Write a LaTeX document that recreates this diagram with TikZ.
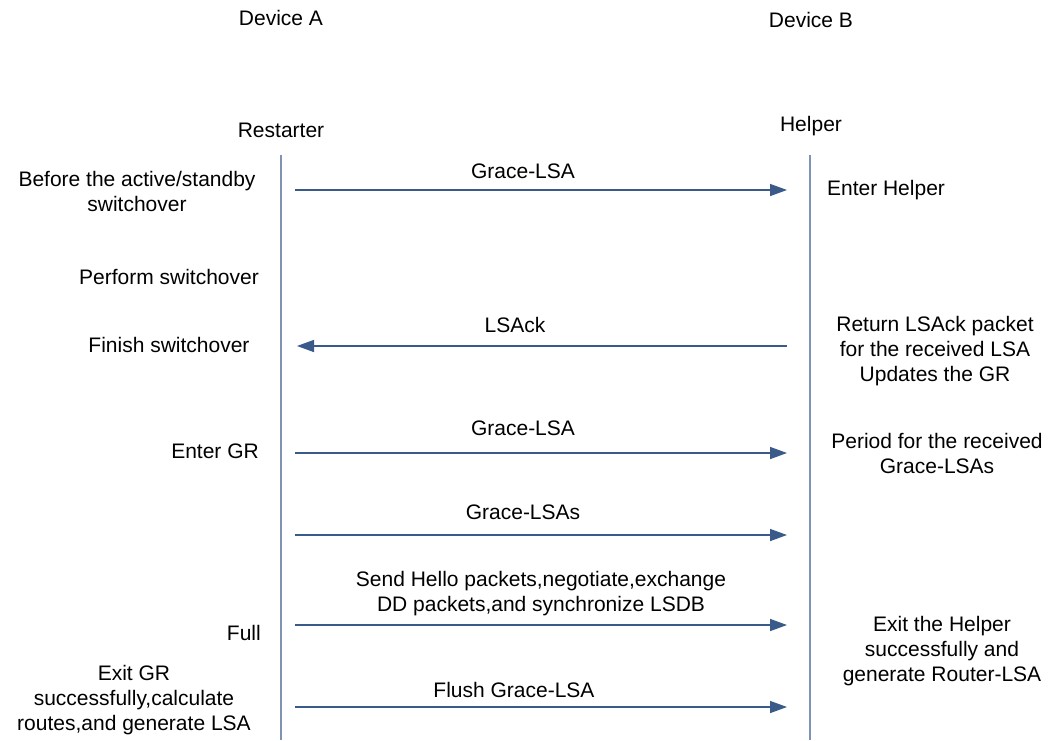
\documentclass[tikz,border=0pt]{standalone}
\usepackage{fontspec}
\setmainfont{Liberation Sans}
\usetikzlibrary{arrows.meta}
\definecolor{msg}{HTML}{3A5A8A}
\definecolor{life}{HTML}{7F93B5}
\begin{document}
\begin{tikzpicture}[x=1pt,y=-1pt,
  txt/.style={inner sep=0pt,align=center,font=\fontsize{21}{25}\selectfont},
  lifeline/.style={draw=life,line width=1.3pt},
  msgarrow/.style={draw=msg,line width=1.5pt,-{Triangle[length=17pt,width=12pt]}}]
\useasboundingbox[fill=white] (0,0) rectangle (1048,740);
% headers
\node[txt] (devA) at (281,18) {Device A};
\node[txt] (devB) at (811,20) {Device B};
\node[txt] (rest) at (281,130) {Restarter};
\node[txt] (help) at (811,126) {Helper};
% lifelines
\coordinate (ltop) at (281,155); \coordinate (lbot) at (281,740);
\coordinate (rtop) at (810,155); \coordinate (rbot) at (810,740);
\draw[lifeline] (ltop) -- (lbot);
\draw[lifeline] (rtop) -- (rbot);
% message endpoints
\coordinate (a1) at (295,190); \coordinate (b1) at (787,190);
\coordinate (a2) at (297,346); \coordinate (b2) at (787,346);
\coordinate (a3) at (295,453); \coordinate (b3) at (787,453);
\coordinate (a4) at (295,535); \coordinate (b4) at (787,535);
\coordinate (a5) at (295,625); \coordinate (b5) at (787,625);
\coordinate (a6) at (295,707); \coordinate (b6) at (787,707);
\draw[msgarrow] (a1) -- (b1);
\draw[msgarrow] (b2) -- (a2);
\draw[msgarrow] (a3) -- (b3);
\draw[msgarrow] (a4) -- (b4);
\draw[msgarrow] (a5) -- (b5);
\draw[msgarrow] (a6) -- (b6);
% message labels
\node[txt] (m1) at (523,171) {Grace-LSA};
\node[txt] (m2) at (515,325) {LSAck};
\node[txt] (m3) at (523,428) {Grace-LSA};
\node[txt] (m4) at (523,512) {Grace-LSAs};
\node[txt] (m5) at (541,594) {Send Hello packets,negotiate,exchange\\DD packets,and synchronize LSDB};
\node[txt] (m6) at (514,690) {Flush Grace-LSA};
% left side texts
\node[txt] (l1) at (137,191) {Before the active/standby\\switchover};
\node[txt] (l2) at (169,277) {Perform switchover};
\node[txt] (l3) at (169,345) {Finish switchover};
\node[txt,anchor=east] (l4) at (259,451) {Enter GR};
\node[txt,anchor=east] (l5) at (261,633) {Full};
\node[txt] (l6) at (134,700) {Exit GR\\successfully,calculate\\routes,and generate LSA};
% right side texts
\node[txt] (r1) at (886,190) {Enter Helper};
\node[txt] (r2) at (935,351) {Return LSAck packet\\for the received LSA\\Updates the GR};
\node[txt] (r3) at (937,453) {Period for the received\\Grace-LSAs};
\node[txt] (r4) at (942,651) {Exit the Helper\\successfully and\\generate Router-LSA};
\end{tikzpicture}
\end{document}
